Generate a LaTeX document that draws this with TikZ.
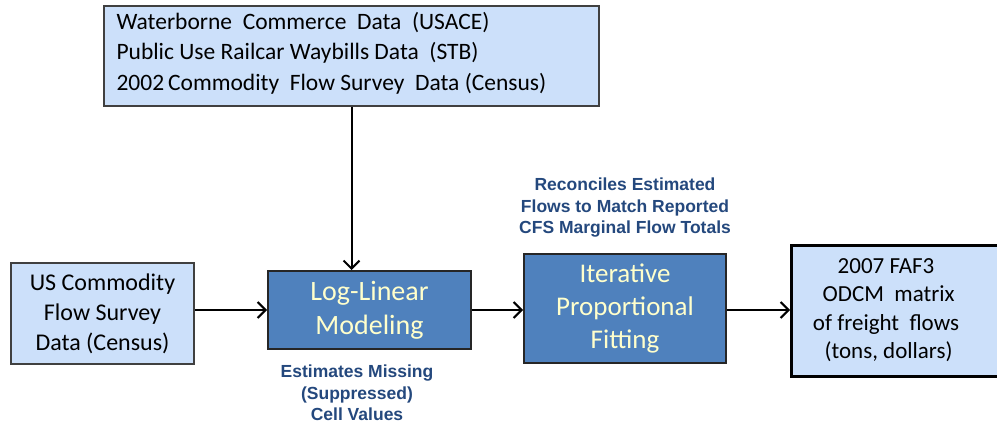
\documentclass[tikz,border=0pt]{standalone}
\usepackage{fontspec}
\setmainfont{Carlito}
\newfontfamily\labfont{Liberation Sans}
\usetikzlibrary{arrows.meta}
\definecolor{lightbox}{RGB}{204,224,250}
\definecolor{darkbox}{RGB}{79,129,189}
\definecolor{paletext}{RGB}{255,255,204}
\definecolor{labblue}{RGB}{36,72,125}
\tikzset{
  light/.style={draw=black!75, line width=2pt, fill=lightbox, inner sep=0pt},
  dark/.style={draw=black!85, line width=2pt, fill=darkbox, inner sep=0pt},
  lab/.style={font=\labfont\bfseries\fontsize{17.5}{21.5}\selectfont, text=labblue, align=center},
  conn/.style={draw=black, line width=2pt, -{Straight Barb[length=8pt,width=16pt,line width=2pt]}},
}
\begin{document}
\begin{tikzpicture}[x=1pt,y=-1pt]
\useasboundingbox (0,0) rectangle (997,425);
\clip (0,0) rectangle (997,425);
% boxes
\node[light, minimum width=495pt, minimum height=100pt, anchor=north west] (src) at (103,5) {};
\node[anchor=west, align=left, font=\fontsize{23.5}{30.5}\selectfont] (srct) at (113,53) {Waterborne\ \ Commerce\ \ Data\ \ (USACE)\\Public Use Railcar Waybills Data\ \ (STB)\\2002\,Commodity\ \ Flow Survey\ \ Data (Census)};
\node[light, minimum width=183pt, minimum height=101pt, anchor=north west] (cfs) at (10,262) {};
\node[align=center, font=\fontsize{24}{30}\selectfont] (cfst) at (cfs.center) {US Commodity\\Flow Survey\\Data (Census)};
\node[dark, minimum width=203pt, minimum height=78pt, anchor=north west] (llm) at (267,270) {};
\node[align=center, text=paletext, font=\fontsize{28}{34}\selectfont] (llmt) at (llm.center) {Log-Linear\\Modeling};
\node[dark, minimum width=202pt, minimum height=109pt, anchor=north west] (ipf) at (523,253) {};
\node[align=center, text=paletext, font=\fontsize{27}{33}\selectfont] (ipft) at (ipf.center) {Iterative\\Proportional\\Fitting};
\node[draw=black, line width=3pt, fill=lightbox, minimum width=230pt, minimum height=131pt, anchor=north west, inner sep=0pt] (faf) at (790,244) {};
\node[align=center, font=\fontsize{23}{28.5}\selectfont] (faft) at (886,310) {2007 FAF3\\\ ODCM\ \ matrix\\of freight\ \ flows\\\ (tons, dollars)};
% labels
\node[lab] (est) at (357,393) {Estimates Missing\\(Suppressed)\\Cell Values};
\node[lab] (rec) at (625,208) {Reconciles Estimated\\Flows to Match Reported\\CFS Marginal Flow Totals};
% connectors
\draw[conn] (src.south) -- (src.south |- llm.north);
\draw[conn] (cfs.east |- llm.west) -- (llm.west);
\draw[conn] (llm.east) -- (ipf.west |- llm.east);
\draw[conn] (ipf.east |- llm.east) -- (faf.west |- llm.east);
\end{tikzpicture}
\end{document}
